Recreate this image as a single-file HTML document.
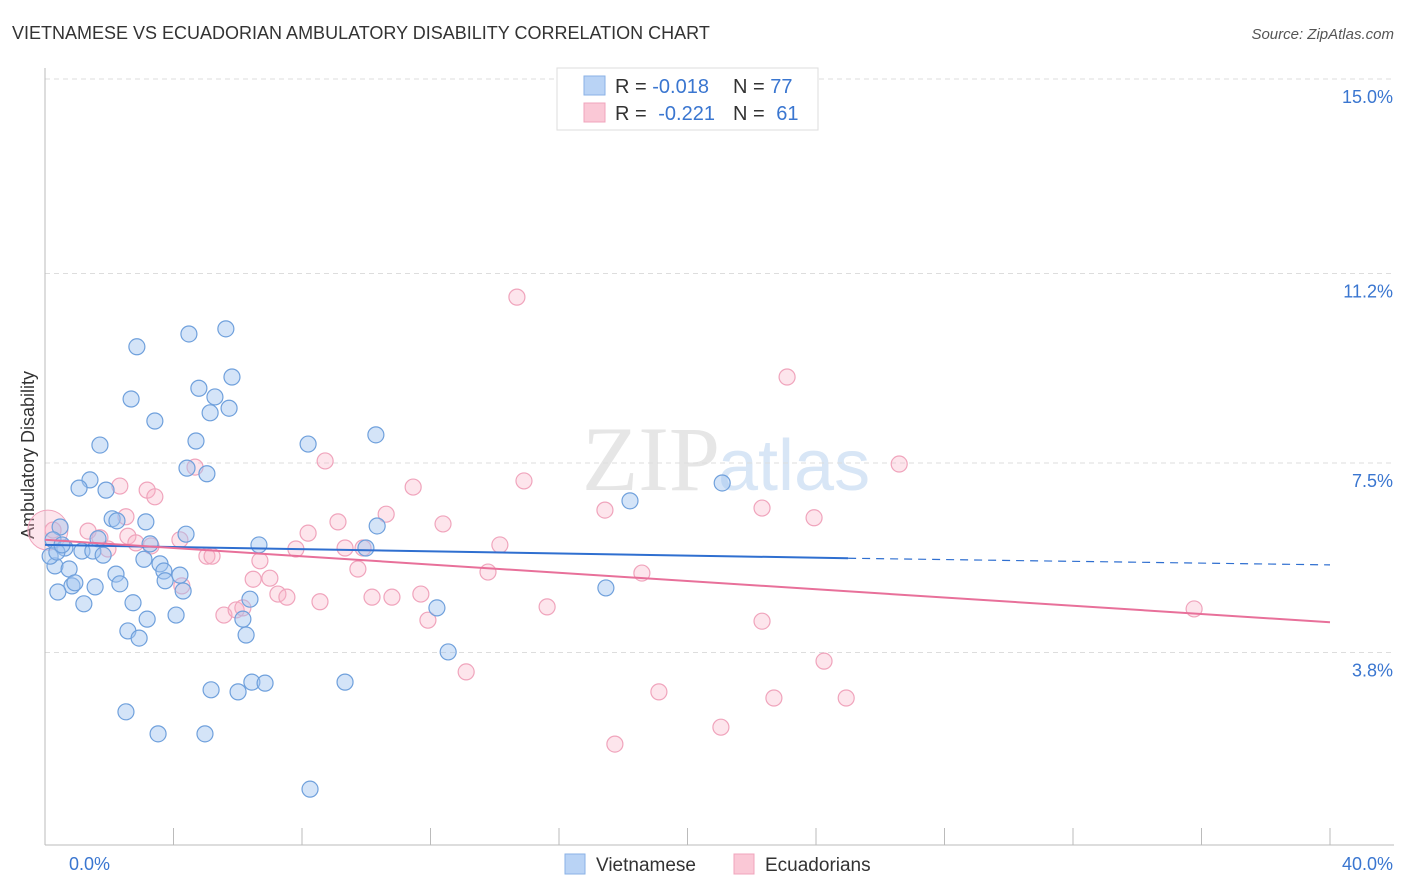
<!DOCTYPE html>
<html><head><meta charset="utf-8">
<style>
body{margin:0;background:#fff;font-family:"Liberation Sans",sans-serif;}
svg{display:block}
</style></head>
<body>
<svg id="chart" width="1406" height="892">
<text x="12" y="39" font-size="18" fill="#333">VIETNAMESE VS ECUADORIAN AMBULATORY DISABILITY CORRELATION CHART</text>
<text x="1394" y="39" font-size="15" fill="#555" font-style="italic" text-anchor="end">Source: ZipAtlas.com</text>
<text x="720" y="490" font-size="92" fill="#e6e6e6" text-anchor="end" font-family="Liberation Serif">ZIP</text>
<text x="718" y="490" font-size="72" fill="#d8e6f6">atlas</text>
<text transform="translate(34,455) rotate(-90)" font-size="18" fill="#333" text-anchor="middle">Ambulatory Disability</text>
<g id="grid"></g><g id="marks"></g>
<g>
<rect x="557" y="68" width="261" height="62" fill="#fff" stroke="#ddd"/>
<rect x="584" y="76" width="21" height="19" fill="#b9d3f5" stroke="#8ab2e6"/>
<rect x="584" y="103" width="21" height="19" fill="#fac8d6" stroke="#f0a4bc"/>
<text x="615" y="93" font-size="20" fill="#333">R = <tspan fill="#3a76d0">-0.018</tspan><tspan x="733">N = </tspan><tspan fill="#3a76d0">77</tspan></text>
<text x="615" y="120" font-size="20" fill="#333">R = <tspan fill="#3a76d0" dx="6">-0.221</tspan><tspan x="733">N = </tspan><tspan fill="#3a76d0" dx="6">61</tspan></text>
</g>
<g>
<rect x="565" y="854" width="20" height="20" fill="#b9d3f5" stroke="#8ab2e6"/>
<text x="596" y="871" font-size="19" fill="#333">Vietnamese</text>
<rect x="734" y="854" width="20" height="20" fill="#fac8d6" stroke="#f0a4bc"/>
<text x="765" y="871" font-size="19" fill="#333">Ecuadorians</text>
</g>
</svg>
<script>
const yTicks=[15.0,11.2,7.5,3.8];
const yTickLabels=["15.0%","11.2%","7.5%","3.8%"];
const xLabels=["0.0%","40.0%"];
const blueX=[2.86,4.48,5.63,2.68,3.42,4.79,5.82,5.29,5.14,5.73,1.71,4.70,8.19,10.30,1.40,1.06,1.90,4.42,5.04,2.09,2.24,3.14,0.47,4.39,1.65,3.27,6.66,9.99,10.34,18.21,21.08,0.25,0.62,1.15,1.49,1.81,0.31,0.75,3.08,3.58,3.70,4.20,3.74,2.21,0.84,0.93,1.56,2.33,0.40,4.30,6.38,2.74,1.21,4.08,3.18,6.16,2.58,2.93,6.26,12.20,17.46,12.55,5.17,6.01,6.44,6.85,9.34,2.52,3.52,4.98,8.25,0.16,0.37,0.53];
const blueY=[9.77,10.02,10.12,8.75,8.32,8.96,9.18,8.79,8.48,8.57,7.85,7.93,7.87,8.05,7.17,7.01,6.97,7.40,7.29,6.41,6.37,6.35,6.25,6.11,6.02,5.92,5.90,5.84,6.27,6.76,7.11,6.00,5.84,5.78,5.78,5.70,5.49,5.43,5.62,5.53,5.39,5.31,5.20,5.33,5.10,5.16,5.08,5.14,4.98,5.00,4.84,4.77,4.75,4.53,4.45,4.45,4.22,4.08,4.14,4.67,5.06,3.81,3.07,3.03,3.22,3.20,3.22,2.64,2.21,2.21,1.13,5.68,5.76,5.90];
const pinkX=[14.69,23.10,26.59,8.72,4.67,2.33,3.18,3.42,11.46,14.91,22.32,23.94,17.43,10.62,12.39,9.12,8.19,2.52,1.34,0.25,1.71,2.58,2.83,4.20,3.30,1.96,7.81,9.34,9.90,14.16,5.04,5.20,6.69,9.74,13.79,18.58,6.48,7.00,7.25,7.53,8.56,10.18,10.80,11.70,15.63,4.26,5.57,5.95,6.16,11.92,22.32,35.77,24.25,13.11,19.11,22.69,24.94,21.04,17.74];
const pinkY=[10.74,9.18,7.48,7.54,7.42,7.05,6.97,6.84,7.03,7.15,6.62,6.43,6.58,6.50,6.31,6.35,6.13,6.45,6.17,6.19,6.04,6.07,5.94,6.00,5.88,5.82,5.82,5.84,5.84,5.90,5.68,5.68,5.59,5.43,5.37,5.35,5.23,5.25,4.94,4.88,4.79,4.88,4.88,4.94,4.69,5.10,4.53,4.63,4.67,4.43,4.41,4.65,3.63,3.42,3.03,2.91,2.91,2.34,2.01];
const blueTrend=[5.90,5.64,5.51];
const pinkTrend=[6.00,4.39];
const X=v=>45+v/40*1285;
const Y=v=>79+(15-v)*51.2;
const NS="http://www.w3.org/2000/svg";
const grid=document.getElementById('grid'),marks=document.getElementById('marks');
function mk(tag,attrs,parent){const e=document.createElementNS(NS,tag);for(const k in attrs)e.setAttribute(k,attrs[k]);parent.appendChild(e);return e;}
yTicks.forEach((t,i)=>{
 const l=mk('line',{x1:45,x2:1394,y1:Y(t),y2:Y(t),stroke:'#ddd','stroke-dasharray':'5,4'},grid);
 
 
 const tx=mk('text',{x:1393,y:Y(t)+24,'font-size':18,fill:'#3a76d0','text-anchor':'end'},grid);
 tx.textContent=yTickLabels[i];
 
 
});
const ax=mk('line',{x1:45,x2:1394,y1:845,y2:845,stroke:'#bbb'},grid);


const ay=mk('line',{x1:45,x2:45,y1:68,y2:845,stroke:'#bbb'},grid);


for(let i=0;i<=10;i++){const t=mk('line',{x1:X(i*4),x2:X(i*4),y1:828,y2:845,stroke:'#bbb'},grid);
 
 }
[[0,69,'start'],[40,1393,'end']].forEach((d,i)=>{const t=mk('text',{x:d[1],y:870,'font-size':18,fill:'#3a76d0','text-anchor':d[2]},grid);t.textContent=xLabels[i];
 
 });
// big pink point at origin
const big=mk('circle',{cx:X(0.09),cy:Y(6.19),r:20,fill:'rgba(248,180,200,0.35)',stroke:'#f0a4bc'},marks);


pinkX.forEach((x,i)=>{const c=mk('circle',{cx:X(x),cy:Y(pinkY[i]),r:8,fill:'rgba(248,180,200,0.35)',stroke:'#f0a4bc','stroke-width':1.2},marks);
 
 });
blueX.forEach((x,i)=>{const c=mk('circle',{cx:X(x),cy:Y(blueY[i]),r:8,fill:'rgba(160,196,240,0.45)',stroke:'#6fa0dc','stroke-width':1.2},marks);
 
 });
const bl=mk('line',{x1:X(0),y1:Y(blueTrend[0]),x2:X(25),y2:Y(blueTrend[1]),stroke:'#2f6fd0','stroke-width':2},marks);


const bd=mk('line',{x1:X(25),y1:Y(blueTrend[1]),x2:X(40),y2:Y(blueTrend[2]),stroke:'#2f6fd0','stroke-width':1.2,'stroke-dasharray':'8,6'},marks);


const pl=mk('line',{x1:X(0),y1:Y(pinkTrend[0]),x2:X(40),y2:Y(pinkTrend[1]),stroke:'#e8709a','stroke-width':2},marks);


</script>
</body></html>
